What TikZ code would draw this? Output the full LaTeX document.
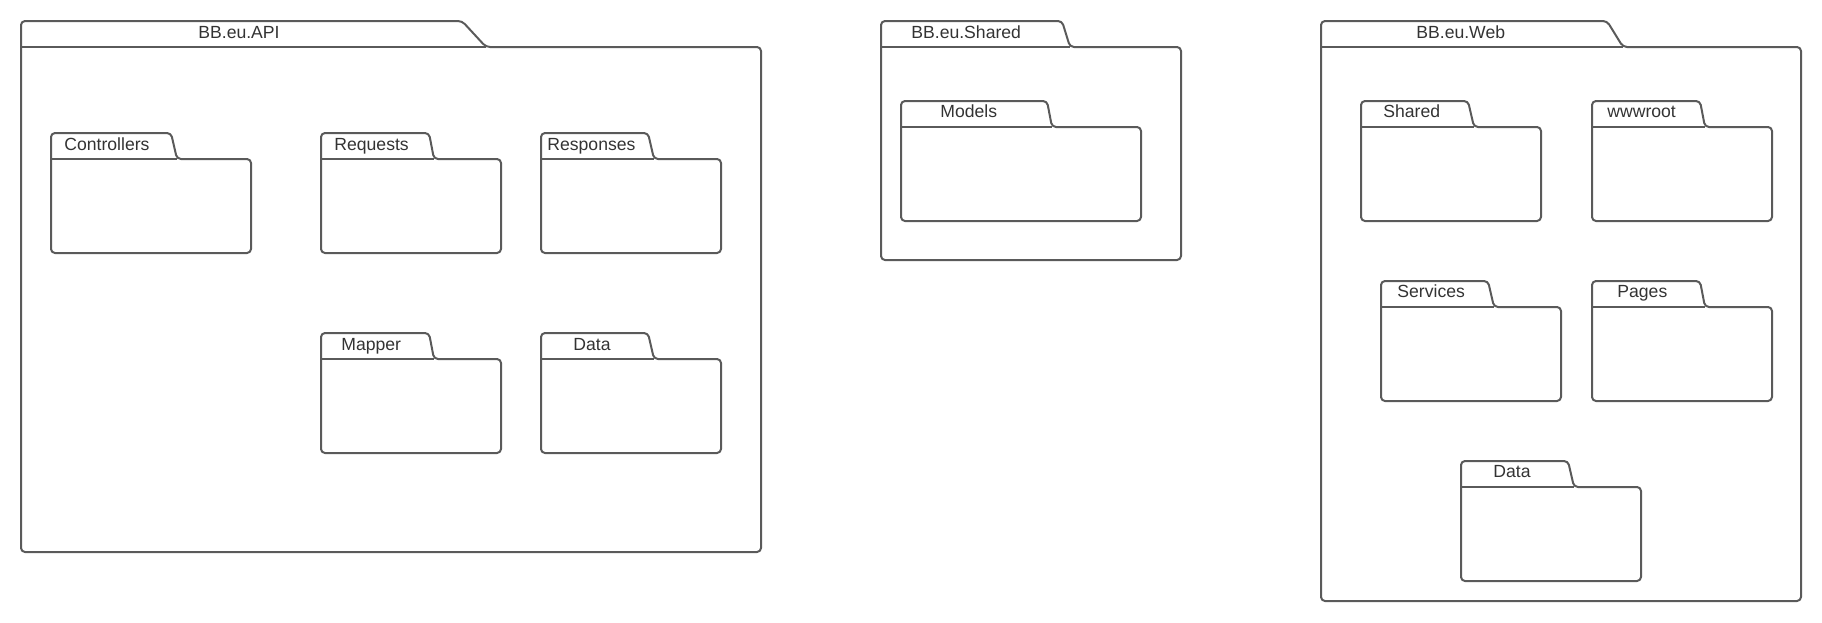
\documentclass[tikz,border=0pt]{standalone}
\usepackage{fontspec}
\setmainfont{Liberation Sans}
\definecolor{pkgline}{HTML}{5A5A5A}
\definecolor{pkgtext}{HTML}{333333}

\tikzset{
  pkg/.style={draw=pkgline,line width=1pt,rounded corners=2pt,line join=round},
  pkglabel/.style={anchor=base west,inner sep=0pt,text=pkgtext,font=\fontsize{8.8}{10}\selectfont}
}

% folder: name, left, tab top, body top, tab slant top, tab slant bottom, right, bottom
\newcommand{\umlpkg}[8]{
  \coordinate (#1) at (#2,#3);
  \draw[pkg] (#2,#8) -- (#2,#3) -- (#5,#3) -- (#6,#4) -- (#7,#4) -- (#7,#8) -- cycle;
  \draw[pkg] (#2,#4) -- (#6,#4);
}

\begin{document}
\begin{tikzpicture}[x=0.5pt,y=-0.5pt]
\useasboundingbox (0,0) rectangle (1822,622);

% BB.eu.API
\umlpkg{api}{21}{21}{47}{462}{486}{761}{552}
\umlpkg{controllers}{51}{133}{159}{171}{177}{251}{253}
\umlpkg{requests}{321}{133}{159}{429}{434}{501}{253}
\umlpkg{responses}{541}{133}{159}{648}{654}{721}{253}
\umlpkg{mapper}{321}{333}{359}{429}{434}{501}{453}
\umlpkg{apidata}{541}{333}{359}{648}{654}{721}{453}

\node[pkglabel] (apilbl) at (198,38) {BB.eu.API};
\node[pkglabel] (controllerslbl) at (64,150.5) {Controllers};
\node[pkglabel] (requestslbl) at (334,150.5) {Requests};
\node[pkglabel] (responseslbl) at (547,150.5) {Responses};
\node[pkglabel] (mapperlbl) at (341,350) {Mapper};
\node[pkglabel] (apidatalbl) at (573,350) {Data};

% BB.eu.Shared
\umlpkg{shared}{881}{21}{47}{1062}{1070}{1181}{260}
\umlpkg{models}{901}{101}{127}{1047}{1052}{1141}{221}

\node[pkglabel] (sharedlbl) at (911,38) {BB.eu.Shared};
\node[pkglabel] (modelslbl) at (940,117.5) {Models};

% BB.eu.Web
\umlpkg{web}{1321}{21}{47}{1607}{1623}{1801}{601}
\umlpkg{webshared}{1361}{101}{127}{1468}{1474}{1541}{221}
\umlpkg{wwwroot}{1592}{101}{127}{1700}{1705}{1772}{221}
\umlpkg{services}{1381}{281}{307}{1488}{1494}{1561}{401}
\umlpkg{pages}{1592}{281}{307}{1700}{1705}{1772}{401}
\umlpkg{webdata}{1461}{461}{487}{1568}{1574}{1641}{581}

\node[pkglabel] (weblbl) at (1416,38) {BB.eu.Web};
\node[pkglabel] (websharedlbl) at (1383,117.5) {Shared};
\node[pkglabel] (wwwrootlbl) at (1607,117.5) {wwwroot};
\node[pkglabel] (serviceslbl) at (1397,297.5) {Services};
\node[pkglabel] (pageslbl) at (1617,297.5) {Pages};
\node[pkglabel] (webdatalbl) at (1493,477.5) {Data};
\end{tikzpicture}
\end{document}
